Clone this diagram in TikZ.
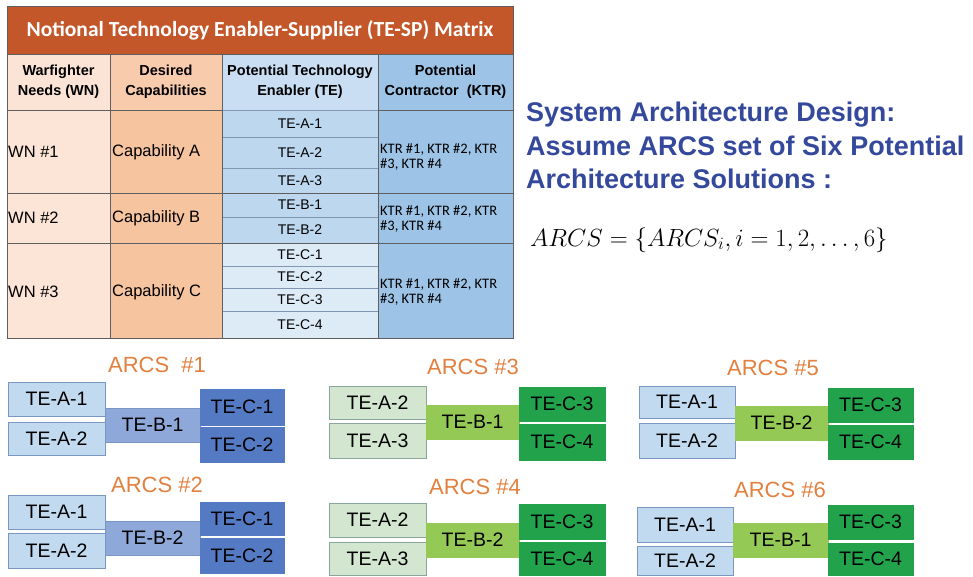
\documentclass[tikz,border=0pt]{standalone}
\usepackage{fontspec}
\setmainfont{Liberation Sans}
\newfontfamily\calfont{Carlito}
\usetikzlibrary{positioning}
\definecolor{titlebar}{HTML}{C3572A}
\definecolor{hA}{HTML}{FBE3D6}
\definecolor{hB}{HTML}{F8CBAD}
\definecolor{hC}{HTML}{C9DEF2}
\definecolor{hD}{HTML}{9DC3E6}
\definecolor{bA}{HTML}{FCE4D6}
\definecolor{bB}{HTML}{F7C4A0}
\definecolor{bC}{HTML}{BDD7EE}
\definecolor{bCc}{HTML}{DDEBF7}
\definecolor{bD}{HTML}{9DC3E6}
\definecolor{tabline}{HTML}{5F5F5F}
\definecolor{teline}{HTML}{8196B0}
\definecolor{bluetxt}{HTML}{34489C}
\definecolor{arcsor}{HTML}{E2803F}
\definecolor{blA}{HTML}{C2DAF0}
\definecolor{blB}{HTML}{8EA8DA}
\definecolor{blC}{HTML}{557AC4}
\definecolor{blE}{HTML}{7A97C2}
\definecolor{grA}{HTML}{D2E6D0}
\definecolor{grAe}{HTML}{8AA59A}
\definecolor{grB}{HTML}{95C955}
\definecolor{grC}{HTML}{22A24B}
\newcommand\cell[7]{%
  \pgfmathsetmacro\cw{#5-#3}\pgfmathsetmacro\ch{#6-#4}%
  \node[#1, minimum width=\cw pt, minimum height=\ch pt, inner sep=0pt] (#2) at ({(#3+#5)/2},{(#4+#6)/2}) {#7};}
\tikzset{
  tcell/.style={draw=tabline, line width=0.8pt, fill=#1},
  tecell/.style={draw=teline, line width=0.6pt, fill=#1, font=\fontsize{14}{16}\selectfont},
  hdr/.style={align=center, font=\bfseries\fontsize{14.5}{20}\selectfont},
  body/.style={anchor=west, font=\fontsize{16.5}{19}\selectfont, inner sep=0pt},
  ktr/.style={anchor=west, align=left, font=\calfont\fontsize{14.5}{15}\selectfont, inner sep=0pt},
  arcst/.style={text=arcsor, font=\fontsize{22}{24}\selectfont},
  abox/.style={draw=#1, line width=0.7pt, font=\fontsize{19.5}{22}\selectfont},
}
\begin{document}
\begin{tikzpicture}[x=1pt,y=-1pt]
\useasboundingbox (0,0) rectangle (973,576);
\fill[white] (0,0) rectangle (973,576);
% ---------------- table ----------------
\cell{tcell=titlebar}{ttl}{7}{6}{513}{54}{\textcolor{white}{\calfont\bfseries\fontsize{21.5}{23}\selectfont Notional Technology Enabler-Supplier (TE-SP) Matrix}}
\cell{tcell=hA}{h1}{7}{54}{110}{110}{}
\cell{tcell=hB}{h2}{110}{54}{222}{110}{}
\cell{tcell=hC}{h3}{222}{54}{378}{110}{}
\cell{tcell=hD}{h4}{378}{54}{513}{110}{}
\node[hdr] (h1t) at (h1) {Warfighter\\Needs (WN)};
\node[hdr] (h2t) at (h2) {Desired\\Capabilities};
\node[hdr] (h3t) at (h3) {Potential Technology\\Enabler (TE)};
\node[hdr] (h4t) at (h4) {Potential\\Contractor\ \ (KTR)};
% group A
\cell{tcell=bA}{wa}{7}{110}{110}{193}{}
\cell{tcell=bB}{ca}{110}{110}{222}{193}{}
\cell{tcell=bD}{ka}{378}{110}{513}{193}{}
\cell{tecell=bC}{tea1}{222}{110}{378}{137}{TE-A-1}
\cell{tecell=bC}{tea2}{222}{137}{378}{168}{TE-A-2}
\cell{tecell=bC}{tea3}{222}{168}{378}{193}{TE-A-3}
% group B
\cell{tcell=bA}{wb}{7}{193}{110}{243}{}
\cell{tcell=bB}{cb}{110}{193}{222}{243}{}
\cell{tcell=bD}{kb}{378}{193}{513}{243}{}
\cell{tecell=bC}{teb1}{222}{193}{378}{217}{TE-B-1}
\cell{tecell=bC}{teb2}{222}{217}{378}{243}{TE-B-2}
% group C
\cell{tcell=bA}{wc}{7}{243}{110}{338}{}
\cell{tcell=bB}{cc}{110}{243}{222}{338}{}
\cell{tcell=bD}{kc}{378}{243}{513}{338}{}
\cell{tecell=bCc}{tec1}{222}{243}{378}{266}{TE-C-1}
\cell{tecell=bCc}{tec2}{222}{266}{378}{288}{TE-C-2}
\cell{tecell=bCc}{tec3}{222}{288}{378}{311}{TE-C-3}
\cell{tecell=bCc}{tec4}{222}{311}{378}{338}{TE-C-4}
\draw[tabline, line width=0.8pt] (7,6) rectangle (513,338);
\draw[tabline, line width=0.8pt] (222,110) -- (222,338) (378,110) -- (378,338);
\draw[tabline, line width=0.8pt] (7,193) -- (513,193) (7,243) -- (513,243);
% body text
\node[body] (wat) at (8,152) {WN \#1};
\node[body] (cat) at (112,152) {Capability A};
\node[body] (wbt) at (8,218) {WN \#2};
\node[body] (cbt) at (112,218) {Capability B};
\node[body] (wct) at (8,292) {WN \#3};
\node[body] (cct) at (112,292) {Capability C};
\node[ktr] (kat) at (380,157) {KTR \#1, KTR \#2, KTR\\\#3, KTR \#4};
\node[ktr] (kbt) at (380,219) {KTR \#1, KTR \#2, KTR\\\#3, KTR \#4};
\node[ktr] (kct) at (380,292) {KTR \#1, KTR \#2, KTR\\\#3, KTR \#4};
% ---------------- right text ----------------
\node[anchor=north west, align=left, text=bluetxt, inner sep=0pt,
      font=\bfseries\fontsize{27}{33.5}\selectfont] (sad) at (526,102)
  {System Architecture Design:\\Assume ARCS set of Six Potential\\Architecture Solutions :};
\node[anchor=west, inner sep=0pt, font=\fontsize{24}{28}\selectfont] (frm) at (530,240)
  {$ARCS=\{ARCS_i, i=1,2,\ldots,6\}$};
% ---------------- ARCS #1 ----------------
\node[arcst] (t1) at (157,365) {ARCS\ \ \#1};
\cell{abox=blE, fill=blA}{a1a}{8}{382}{105}{416}{TE-A-1}
\cell{abox=blE, fill=blA}{a1b}{8}{422}{105}{455}{TE-A-2}
\cell{abox=blE, fill=blB}{a1c}{105}{408}{200}{442}{TE-B-1}
\cell{abox=blC, fill=blC}{a1d}{200}{389}{284}{425}{TE-C-1}
\cell{abox=blC, fill=blC}{a1e}{200}{427}{284}{462}{TE-C-2}
% ---------------- ARCS #2 ----------------
\node[arcst] (t2) at (157,485) {ARCS \#2};
\cell{abox=blE, fill=blA}{a2a}{8}{495}{105}{529}{TE-A-1}
\cell{abox=blE, fill=blA}{a2b}{8}{533}{105}{568}{TE-A-2}
\cell{abox=blE, fill=blB}{a2c}{105}{521}{200}{555}{TE-B-2}
\cell{abox=blC, fill=blC}{a2d}{200}{502}{284}{535}{TE-C-1}
\cell{abox=blC, fill=blC}{a2e}{200}{538}{284}{573}{TE-C-2}
% ---------------- ARCS #3 ----------------
\node[arcst] (t3) at (473,367) {ARCS \#3};
\cell{abox=grAe, fill=grA}{a3a}{329}{386}{426}{419}{TE-A-2}
\cell{abox=grAe, fill=grA}{a3b}{329}{423}{426}{458}{TE-A-3}
\cell{abox=grB, fill=grB}{a3c}{426}{405}{519}{439}{TE-B-1}
\cell{abox=grC, fill=grC}{a3d}{519}{387}{605}{421}{TE-C-3}
\cell{abox=grC, fill=grC}{a3e}{519}{424}{605}{460}{TE-C-4}
% ---------------- ARCS #4 ----------------
\node[arcst] (t4) at (475,487) {ARCS \#4};
\cell{abox=grAe, fill=grA}{a4a}{329}{503}{426}{537}{TE-A-2}
\cell{abox=grAe, fill=grA}{a4b}{329}{542}{426}{575}{TE-A-3}
\cell{abox=grB, fill=grB}{a4c}{426}{523}{519}{557}{TE-B-2}
\cell{abox=grC, fill=grC}{a4d}{519}{504}{605}{539}{TE-C-3}
\cell{abox=grC, fill=grC}{a4e}{519}{542}{605}{575}{TE-C-4}
% ---------------- ARCS #5 ----------------
\node[arcst] (t5) at (773,368) {ARCS \#5};
\cell{abox=blE, fill=blA}{a5a}{639}{386}{735}{418}{TE-A-1}
\cell{abox=blE, fill=blA}{a5b}{639}{423}{735}{458}{TE-A-2}
\cell{abox=grB, fill=grB}{a5c}{735}{406}{828}{440}{TE-B-2}
\cell{abox=grC, fill=grC}{a5d}{828}{388}{913}{422}{TE-C-3}
\cell{abox=grC, fill=grC}{a5e}{828}{425}{913}{459}{TE-C-4}
% ---------------- ARCS #6 ----------------
\node[arcst] (t6) at (780,490) {ARCS \#6};
\cell{abox=blE, fill=blA}{a6a}{637}{507}{733}{542}{TE-A-1}
\cell{abox=blE, fill=blA}{a6b}{637}{546}{733}{575}{TE-A-2}
\cell{abox=grB, fill=grB}{a6c}{733}{523}{828}{557}{TE-B-1}
\cell{abox=grC, fill=grC}{a6d}{828}{505}{913}{539}{TE-C-3}
\cell{abox=grC, fill=grC}{a6e}{828}{543}{913}{575}{TE-C-4}
\end{tikzpicture}
\end{document}
